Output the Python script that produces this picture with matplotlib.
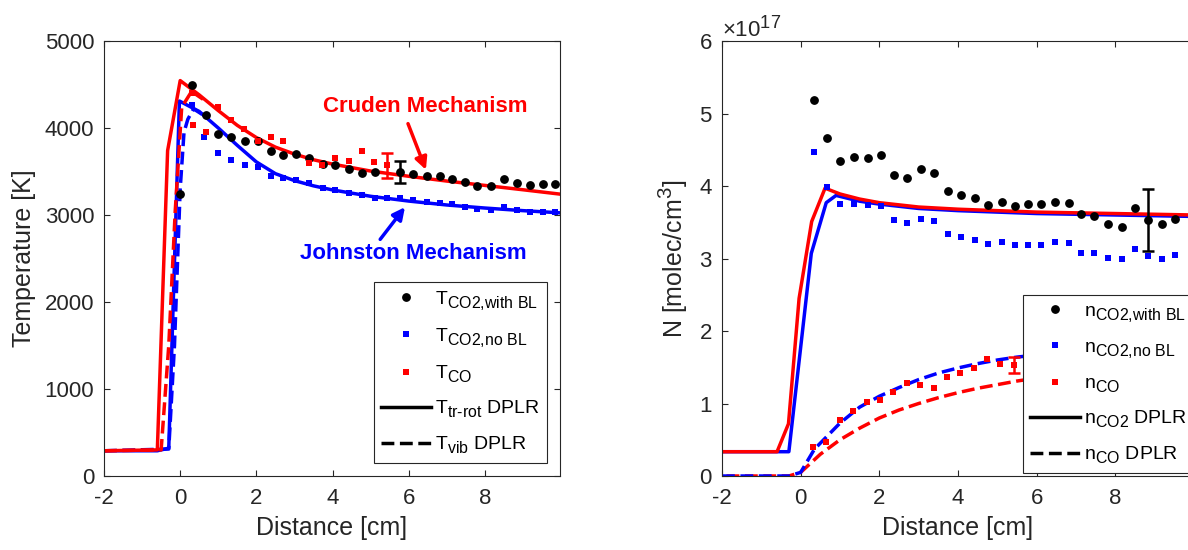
import numpy as np
import matplotlib
matplotlib.use('Agg')
import matplotlib.pyplot as plt
import matplotlib._mathtext as mtx
from matplotlib.lines import Line2D
from matplotlib.ticker import ScalarFormatter

# larger, lower subscripts, closer to the MATLAB look
mtx.SHRINK_FACTOR = 0.82
mtx.FontConstantsBase.sub1 = 0.42
mtx.FontConstantsBase.sub2 = 0.5

plt.rcParams['font.family'] = ['Liberation Sans', 'DejaVu Sans']
plt.rcParams['mathtext.fontset'] = 'custom'
plt.rcParams['mathtext.rm'] = 'Liberation Sans'
plt.rcParams['mathtext.it'] = 'Liberation Sans:italic'
plt.rcParams['mathtext.bf'] = 'Liberation Sans:bold'
plt.rcParams['mathtext.default'] = 'regular'
plt.rcParams['axes.unicode_minus'] = False

# ==========================================
# Temperature panel data
# ==========================================
x_t_bl = [0.0, 0.31, 0.68, 1.0, 1.34, 1.71, 2.03, 2.38, 2.71, 3.04, 3.39, 3.75, 4.07, 4.42,
          4.77, 5.12, 5.77, 6.12, 6.47, 6.82, 7.14, 7.47, 7.8, 8.16, 8.5, 8.84, 9.18, 9.52, 9.85]
t_co2_bl = [3246, 4489, 4145, 3934, 3896, 3846, 3846, 3731, 3693, 3704, 3659, 3582, 3571, 3533,
            3487, 3494, 3494, 3475, 3444, 3451, 3413, 3383, 3337, 3333, 3413, 3364, 3345, 3352, 3356]

x_t_nobl = [0.31, 0.63, 1.0, 1.34, 1.69, 2.03, 2.38, 2.71, 3.04, 3.39, 3.74, 4.07, 4.42, 4.77,
            5.12, 5.44, 5.77, 6.12, 6.47, 6.82, 7.14, 7.47, 7.8, 8.16, 8.5, 8.84, 9.18, 9.52, 9.85]
t_co2_nobl = [4267, 3896, 3712, 3636, 3579, 3551, 3444, 3430, 3398, 3372, 3314, 3292, 3253, 3226,
              3200, 3190, 3196, 3168, 3150, 3140, 3124, 3097, 3070, 3055, 3097, 3059, 3040, 3040, 3040]

x_t_co = [0.31, 0.33, 0.68, 1.0, 1.34, 1.68, 2.03, 2.38, 2.71, 3.39, 3.73, 4.07, 4.42, 4.77, 5.09, 5.44]
t_co = [4400, 4036, 3953, 4240, 4087, 3985, 3848, 3896, 3846, 3597, 3575, 3659, 3620, 3731, 3609, 3571]

# representative error bars (x, value, half-width)
t_err_bl = (5.77, 3494, 126)
t_err_co = (5.44, 3571, 141)

# DPLR lines
x_cru_tr = [-2, -0.6, -0.33, 0.0, 0.5, 1.0, 1.5, 2.0, 2.5, 3.0, 3.5, 4.0, 5.0, 6.0, 7.0, 8.0, 9.0, 9.97]
t_cru_tr = [290, 300, 3740, 4545, 4380, 4200, 4030, 3890, 3780, 3700, 3635, 3585, 3505, 3445, 3390, 3340, 3290, 3240]
x_cru_vib = [-2, -0.5, -0.3, -0.13, 0.04, 0.3, 0.6]
t_cru_vib = [290, 300, 1500, 3050, 4240, 4420, 4330]

x_joh_tr = [-2, -0.6, -0.3, -0.02, 0.5, 1.0, 1.5, 2.0, 2.5, 3.0, 3.5, 4.0, 5.0, 6.0, 7.0, 8.0, 9.0, 9.97]
t_joh_tr = [290, 290, 320, 4310, 4190, 4000, 3800, 3610, 3475, 3395, 3335, 3288, 3215, 3160, 3115, 3080, 3050, 3025]
x_joh_vib = [-2, -0.3, -0.15, 0.0, 0.1, 0.2, 0.35, 0.6]
t_joh_vib = [290, 310, 1500, 3300, 3950, 4100, 4220, 4150]

# ==========================================
# Number density panel data (1e17 molec/cm^3)
# ==========================================
x_n = [0.33, 0.67, 1.01, 1.36, 1.70, 2.04, 2.37, 2.71, 3.06, 3.40, 3.75, 4.08, 4.44, 4.77,
       5.11, 5.45, 5.78, 6.12, 6.46, 6.81, 7.13, 7.47, 7.82, 8.17, 8.50, 8.84, 9.18, 9.51]
n_co2_bl = [5.19, 4.66, 4.34, 4.40, 4.38, 4.43, 4.15, 4.11, 4.23, 4.18, 3.93, 3.88, 3.83, 3.74,
            3.78, 3.72, 3.75, 3.75, 3.78, 3.77, 3.61, 3.59, 3.47, 3.43, 3.69, 3.53, 3.47, 3.55]
n_co2_nobl = [4.47, 3.98, 3.75, 3.75, 3.74, 3.72, 3.53, 3.49, 3.55, 3.52, 3.34, 3.29, 3.26, 3.20,
              3.23, 3.19, 3.19, 3.19, 3.23, 3.21, 3.08, 3.08, 3.01, 2.99, 3.13, 3.03, 2.99, 3.05]

x_n_co = [0.31, 0.65, 0.99, 1.34, 1.68, 2.02, 2.35, 2.71, 3.03, 3.39, 3.72, 4.06, 4.40, 4.74, 5.08, 5.43]
n_co = [0.40, 0.47, 0.77, 0.89, 1.02, 1.05, 1.16, 1.28, 1.26, 1.22, 1.37, 1.42, 1.49, 1.62, 1.55, 1.53]

n_err_bl = (8.84, 3.53, 0.43)
n_err_co = (5.43, 1.53, 0.11)

x_cru_nco2 = [-2, -0.6, -0.31, -0.04, 0.28, 0.62, 1.0, 1.5, 2.0, 3.0, 4.0, 5.0, 6.0, 7.0, 8.0, 9.0, 10.0]
n_cru_nco2 = [0.335, 0.335, 0.72, 2.45, 3.51, 3.97, 3.89, 3.82, 3.77, 3.71, 3.68, 3.66, 3.64, 3.63, 3.62, 3.61, 3.60]
x_joh_nco2 = [-2, -0.3, 0.27, 0.65, 0.9, 1.5, 2.0, 3.0, 4.0, 5.0, 6.0, 7.0, 8.0, 9.0, 10.0]
n_joh_nco2 = [0.335, 0.335, 3.07, 3.77, 3.87, 3.79, 3.75, 3.69, 3.66, 3.64, 3.62, 3.61, 3.60, 3.59, 3.58]

x_cru_nco = [-2, -0.3, 0, 0.5, 1, 1.5, 2, 2.5, 3, 3.5, 4, 4.5, 5, 5.5, 6, 7, 8, 10]
n_cru_nco = [0, 0, 0.05, 0.3, 0.5, 0.66, 0.8, 0.91, 1.0, 1.08, 1.15, 1.21, 1.26, 1.31, 1.35, 1.42, 1.48, 1.57]
x_joh_nco = [-2, -0.3, 0, 0.35, 1.0, 1.5, 2.0, 2.5, 3.0, 3.5, 4.0, 4.5, 5.0, 5.5, 6, 7, 8, 10]
n_joh_nco = [0, 0, 0.05, 0.37, 0.73, 0.95, 1.1, 1.22, 1.33, 1.42, 1.49, 1.55, 1.6, 1.64, 1.67, 1.72, 1.76, 1.8]

# ==========================================
# Figure
# ==========================================
W, H = 1188, 550
fig = plt.figure(figsize=(W / 100, H / 100), dpi=100)
ax1 = fig.add_axes([104 / W, 1 - 476 / H, 456 / W, 435 / H])
ax2 = fig.add_axes([722 / W, 1 - 476 / H, 472 / W, 435 / H])

RED, BLUE, GRAY = '#FF0000', '#0000FF', '#262626'
LW = 2.5
dot_kw = dict(ls='none', marker='o', ms=5.3, color='k', zorder=4)
sq_kw = dict(ls='none', marker='s', ms=4.3, mew=0, zorder=4)
err_kw = dict(fmt='none', elinewidth=1.8, capsize=4, capthick=1.8, zorder=5)


def style_axes(ax):
    for s in ax.spines.values():
        s.set_color(GRAY)
        s.set_linewidth(0.8)
    ax.tick_params(direction='in', top=True, right=True, length=4, width=0.8,
                   colors=GRAY, labelsize=16)
    ax.tick_params(axis='x', pad=9)
    ax.tick_params(axis='y', pad=7)
    ax.set_xlabel('Distance [cm]', fontsize=18, color=GRAY, labelpad=5)


def make_legend(ax, labels, anchor, loc):
    handles = [
        Line2D([], [], ls='none', marker='o', ms=5.3, color='k'),
        Line2D([], [], ls='none', marker='s', ms=4.3, mew=0, color=BLUE),
        Line2D([], [], ls='none', marker='s', ms=4.3, mew=0, color=RED),
        Line2D([], [], ls='-', lw=LW, color='k'),
        Line2D([], [], ls='--', lw=LW, color='k'),
    ]
    leg = ax.legend(handles, labels, loc=loc, bbox_to_anchor=anchor,
                    bbox_transform=fig.transFigure, fontsize=14, frameon=True,
                    fancybox=False, framealpha=1, edgecolor=GRAY, borderpad=0.35,
                    borderaxespad=0, handlelength=2.6, handletextpad=0.2,
                    labelspacing=0.75)
    leg.get_frame().set_linewidth(0.8)
    leg.set_zorder(10)
    return leg


# ---- left: temperature ----
ax1.plot(x_joh_tr, t_joh_tr, color=BLUE, lw=LW)
ax1.plot(x_joh_vib, t_joh_vib, color=BLUE, lw=LW, ls='--')
ax1.plot(x_cru_vib, t_cru_vib, color=RED, lw=LW, ls='--')
ax1.plot(x_cru_tr, t_cru_tr, color=RED, lw=LW)
ax1.plot(x_t_bl, t_co2_bl, **dot_kw)
ax1.plot(x_t_nobl, t_co2_nobl, color=BLUE, **sq_kw)
ax1.plot(x_t_co, t_co, color=RED, **sq_kw)
ax1.errorbar([t_err_bl[0]], [t_err_bl[1]], yerr=[t_err_bl[2]], ecolor='k', **err_kw)
ax1.errorbar([t_err_co[0]], [t_err_co[1]], yerr=[t_err_co[2]], ecolor=RED, **err_kw)

ax1.text(6.42, 4250, 'Cruden Mechanism', color=RED, fontsize=16, fontweight='bold',
         ha='center', va='center')
ax1.text(6.12, 2555, 'Johnston Mechanism', color=BLUE, fontsize=16, fontweight='bold',
         ha='center', va='center')
ax1.annotate('', xy=(6.45, 3520), xytext=(5.98, 4050),
             arrowprops=dict(arrowstyle='-|>', color=RED, lw=2.5, mutation_scale=18,
                             shrinkA=0, shrinkB=0))
ax1.annotate('', xy=(5.9, 3090), xytext=(5.25, 2720),
             arrowprops=dict(arrowstyle='-|>', color=BLUE, lw=2.5, mutation_scale=18,
                             shrinkA=0, shrinkB=0))

ax1.set_xlim(-2, 9.97)
ax1.set_ylim(0, 5000)
ax1.set_xticks([-2, 0, 2, 4, 6, 8])
ax1.set_yticks([0, 1000, 2000, 3000, 4000, 5000])
style_axes(ax1)
ax1.set_ylabel('Temperature [K]', fontsize=18, color=GRAY, labelpad=6)
make_legend(ax1, [r'T$_{\text{CO2,with BL}}$', r'T$_{\text{CO2,no BL}}$', r'T$_{\text{CO}}$',
                  r'T$_{\text{tr-rot}}$ DPLR', r'T$_{\text{vib}}$ DPLR'],
            (547 / W, 1 - 463 / H), 'lower right')

# ---- right: number density ----
sc = 1e17
ax2.plot(x_joh_nco, np.array(n_joh_nco) * sc, color=BLUE, lw=LW, ls='--', zorder=2.1)
ax2.plot(x_cru_nco, np.array(n_cru_nco) * sc, color=RED, lw=LW, ls=(4, (3.7, 1.6)), zorder=2)
ax2.plot(x_joh_nco2, np.array(n_joh_nco2) * sc, color=BLUE, lw=LW)
ax2.plot(x_cru_nco2, np.array(n_cru_nco2) * sc, color=RED, lw=LW)
ax2.plot(x_n, np.array(n_co2_bl) * sc, **dot_kw)
ax2.plot(x_n, np.array(n_co2_nobl) * sc, color=BLUE, **sq_kw)
ax2.plot(x_n_co, np.array(n_co) * sc, color=RED, **sq_kw)
ax2.errorbar([n_err_bl[0]], [n_err_bl[1] * sc], yerr=[n_err_bl[2] * sc], ecolor='k', **err_kw)
ax2.errorbar([n_err_co[0]], [n_err_co[1] * sc], yerr=[n_err_co[2] * sc], ecolor=RED, **err_kw)

ax2.set_xlim(-2, 10)
ax2.set_ylim(0, 6e17)
ax2.set_xticks([-2, 0, 2, 4, 6, 8])
ax2.set_yticks(np.arange(0, 7) * sc)
fmt = ScalarFormatter(useMathText=True)
fmt.set_powerlimits((0, 0))
ax2.yaxis.set_major_formatter(fmt)
style_axes(ax2)
ax2.yaxis.get_offset_text().set_fontsize(16)
ax2.yaxis.get_offset_text().set_color(GRAY)
ax2.set_ylabel(r'N [molec/cm$^{3}$]', fontsize=18, color=GRAY, labelpad=6)
make_legend(ax2, [r'n$_{\text{CO2,with BL}}$', r'n$_{\text{CO2,no BL}}$', r'n$_{\text{CO}}$',
                  r'n$_{\text{CO2}}$ DPLR', r'n$_{\text{CO}}$ DPLR'],
            (1023 / W, 1 - 473 / H), 'lower left')

fig.savefig('out.png', dpi=100)
